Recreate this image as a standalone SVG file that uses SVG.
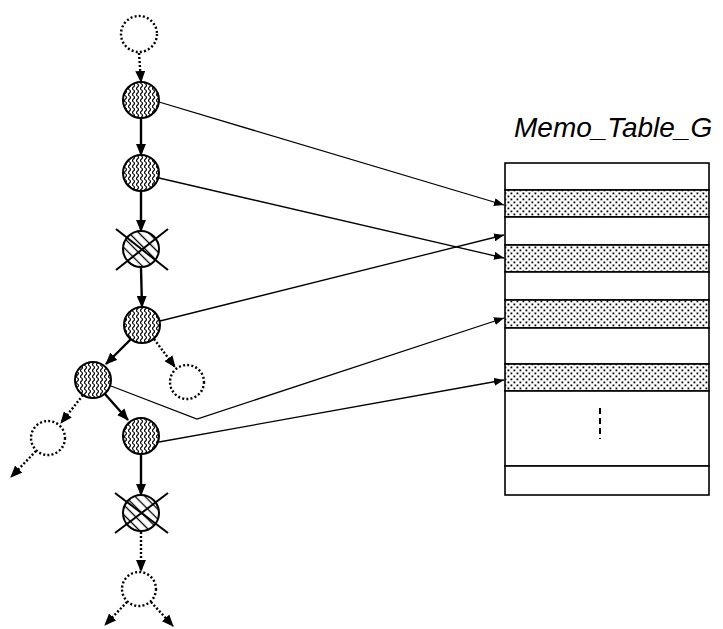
<svg xmlns="http://www.w3.org/2000/svg" width="723" height="629" viewBox="0 0 723 629">
  <style>
    .ghost { fill: #fff; stroke: #000; stroke-width: 2.4; stroke-dasharray: 2 2.2; }
    .live { fill: url(#wave); stroke: #000; stroke-width: 2; }
    .dead { fill: url(#hatch); stroke: #000; stroke-width: 2; }
    .cross { stroke: #000; stroke-width: 2; }
    .edge { fill: none; stroke: #000; stroke-width: 2.4; marker-end: url(#head); }
    .dotted { fill: none; stroke: #000; stroke-width: 2.4; stroke-dasharray: 2 2; marker-end: url(#head); }
    .link { fill: none; stroke: #000; stroke-width: 1.3; marker-end: url(#tip); }
    .row { fill: #fff; stroke: #000; stroke-width: 1.6; }
    .band { fill: url(#dots); stroke: #000; stroke-width: 1.6; }
    .label { font-family: "Liberation Sans", Arial, sans-serif; font-style: italic; font-size: 28px; fill: #000; }
  </style>
  <defs>
    <marker id="head" markerUnits="userSpaceOnUse" markerWidth="12" markerHeight="10" refX="11" refY="5" orient="auto">
      <path d="M0,0 L12,5 L0,10 z" fill="#000"/>
    </marker>
    <marker id="tip" markerUnits="userSpaceOnUse" markerWidth="10" markerHeight="8" refX="10" refY="4" orient="auto">
      <path d="M0,0 L10,4 L0,8 z" fill="#000"/>
    </marker>
    <pattern id="wave" patternUnits="userSpaceOnUse" width="4" height="6">
      <rect width="4" height="6" fill="#fff"/>
      <path d="M1.5,0 q2,1.5 0,3 q-2,1.5 0,3" fill="none" stroke="#000" stroke-width="1.2"/>
    </pattern>
    <pattern id="hatch" patternUnits="userSpaceOnUse" width="7" height="7" patternTransform="rotate(45)">
      <rect width="7" height="7" fill="#fff"/>
      <line x1="0" y1="3.5" x2="7" y2="3.5" stroke="#000" stroke-width="1.3"/>
    </pattern>
    <pattern id="dots" patternUnits="userSpaceOnUse" width="6" height="6">
      <rect width="6" height="6" fill="#fff"/>
      <rect x="0.5" y="0.5" width="1.8" height="1.8" fill="#000"/>
      <rect x="3.5" y="3.5" width="1.8" height="1.8" fill="#000"/>
    </pattern>
  </defs>

  <!-- memo table -->
  <g id="memo-table">
    <text class="label" x="514" y="137">Memo_Table_G</text>
    <rect class="row" x="505" y="163" width="204" height="27"/>
    <rect class="band" x="505" y="190" width="204" height="27"/>
    <rect class="row" x="505" y="217" width="204" height="28"/>
    <rect class="band" x="505" y="245" width="204" height="27"/>
    <rect class="row" x="505" y="272" width="204" height="28"/>
    <rect class="band" x="505" y="300" width="204" height="28"/>
    <rect class="row" x="505" y="328" width="204" height="36"/>
    <rect class="band" x="505" y="364" width="204" height="27"/>
    <rect class="row" x="505" y="391" width="204" height="75"/>
    <rect class="row" x="505" y="466" width="204" height="29"/>
    <line x1="600" y1="408" x2="600" y2="439" stroke="#000" stroke-width="2" stroke-dasharray="6 4"/>
  </g>

  <!-- tree nodes -->
  <g id="n0"><circle class="ghost" cx="139" cy="34" r="18"/></g>
  <g id="n1"><circle class="live" cx="141" cy="100" r="18"/></g>
  <g id="n2"><circle class="live" cx="141" cy="173" r="18"/></g>
  <g id="n3">
    <circle class="dead" cx="141" cy="249" r="18"/>
    <line class="cross" x1="116" y1="229" x2="168" y2="270"/>
    <line class="cross" x1="168" y1="229" x2="116" y2="270"/>
  </g>
  <g id="n4"><circle class="live" cx="142" cy="325" r="18"/></g>
  <g id="n5"><circle class="ghost" cx="187" cy="382" r="17"/></g>
  <g id="n6"><circle class="live" cx="93" cy="380" r="18"/></g>
  <g id="n7"><circle class="live" cx="141" cy="436" r="18"/></g>
  <g id="n8"><circle class="ghost" cx="48" cy="438" r="17"/></g>
  <g id="n9">
    <circle class="dead" cx="141" cy="513" r="18"/>
    <line class="cross" x1="115" y1="493" x2="168" y2="533"/>
    <line class="cross" x1="168" y1="493" x2="115" y2="533"/>
  </g>
  <g id="n10"><circle class="ghost" cx="139" cy="589" r="17"/></g>

  <!-- connectors -->
  <g id="connectors">
    <line class="dotted" x1="139" y1="53" x2="141" y2="82"/>
    <line class="edge" x1="141" y1="118" x2="141" y2="155"/>
    <line class="edge" x1="141" y1="191" x2="141" y2="231"/>
    <line class="edge" x1="141" y1="268" x2="142" y2="307"/>
    <line class="edge" x1="131" y1="339" x2="106" y2="364"/>
    <line class="dotted" x1="154" y1="339" x2="175" y2="367"/>
    <line class="dotted" x1="83" y1="395" x2="61" y2="423"/>
    <line class="edge" x1="105" y1="394" x2="128" y2="420"/>
    <line class="dotted" x1="36" y1="451" x2="11" y2="477"/>
    <line class="edge" x1="141" y1="454" x2="141" y2="495"/>
    <line class="dotted" x1="141" y1="532" x2="141" y2="571"/>
    <line class="dotted" x1="127" y1="602" x2="105" y2="625"/>
    <line class="dotted" x1="151" y1="602" x2="173" y2="626"/>

    <line class="link" x1="159" y1="102" x2="504" y2="205"/>
    <line class="link" x1="159" y1="178" x2="504" y2="258"/>
    <line class="link" x1="160" y1="321" x2="504" y2="235"/>
    <polyline class="link" points="111,386 197,419 504,318"/>
    <line class="link" x1="159" y1="442" x2="504" y2="380"/>
  </g>
</svg>
